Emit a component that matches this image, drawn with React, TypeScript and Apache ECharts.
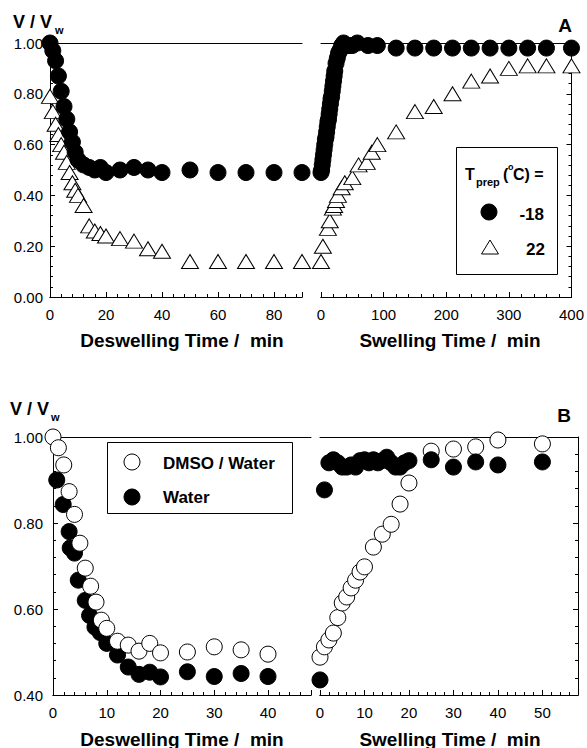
import React, { useEffect, useRef } from "react";
import * as echarts from "echarts";

const FONT = "'Liberation Sans', Arial, Helvetica, sans-serif";

// ---------- Panel A ----------
// Deswelling (min)
const desTimeA = [0, 1, 2, 3, 4, 5, 6, 7, 8, 9, 10, 12, 14, 16, 18, 20, 25, 30, 35, 40, 50, 60, 70, 80, 90];
const desM18 = [1.0, 0.97, 0.93, 0.87, 0.81, 0.75, 0.7, 0.65, 0.61, 0.57, 0.54, 0.52, 0.51, 0.5, 0.51, 0.49, 0.5, 0.51, 0.5, 0.49, 0.5, 0.49, 0.49, 0.49, 0.49];
const des22 = [0.79, 0.73, 0.68, 0.64, 0.6, 0.57, 0.53, 0.49, 0.45, 0.42, 0.4, 0.36, 0.28, 0.26, 0.25, 0.24, 0.23, 0.22, 0.19, 0.18, 0.14, 0.14, 0.14, 0.14, 0.14];
// Swelling (min)
const swTimeM18 = [0, 1, 2, 3, 4, 5, 6, 7, 8, 9, 10, 11, 12, 13, 14, 15, 16, 17, 18, 19, 20, 21, 22, 24, 26, 28, 30, 33, 36, 40, 45, 50, 58, 75, 90, 120, 150, 180, 210, 240, 270, 300, 330, 360, 400];
const swM18 = [0.49, 0.5, 0.52, 0.54, 0.56, 0.58, 0.6, 0.62, 0.63, 0.65, 0.67, 0.69, 0.7, 0.72, 0.74, 0.76, 0.78, 0.79, 0.81, 0.83, 0.85, 0.87, 0.89, 0.92, 0.94, 0.96, 0.97, 0.99, 1.0, 0.99, 0.99, 0.99, 1.0, 0.99, 0.99, 0.98, 0.98, 0.98, 0.98, 0.98, 0.98, 0.98, 0.98, 0.98, 0.98];
const swTime22 = [0, 3, 11, 14, 19, 21, 24, 27, 33, 38, 50, 60, 73, 81, 90, 120, 150, 180, 210, 240, 270, 300, 330, 360, 400];
const sw22 = [0.14, 0.2, 0.27, 0.3, 0.35, 0.36, 0.38, 0.4, 0.43, 0.45, 0.47, 0.52, 0.53, 0.57, 0.6, 0.65, 0.73, 0.75, 0.8, 0.85, 0.87, 0.9, 0.91, 0.91, 0.91];

// ---------- Panel B ----------
const desTimeDMSO = [0, 1, 2, 3, 4, 5, 6, 7, 8, 9, 10, 12, 14, 16, 18, 20, 25, 30, 35, 40];
const desDMSO = [1.0, 0.975, 0.935, 0.873, 0.82, 0.753, 0.695, 0.653, 0.616, 0.574, 0.555, 0.525, 0.516, 0.502, 0.52, 0.498, 0.5, 0.512, 0.505, 0.495];
const desTimeWater = [0.7, 1.9, 3, 3.2, 4, 4.7, 6, 6.8, 7.8, 8.8, 10, 12, 14, 16, 18, 20, 25, 30, 35, 40];
const desWater = [0.9, 0.843, 0.78, 0.742, 0.73, 0.667, 0.62, 0.585, 0.558, 0.545, 0.52, 0.493, 0.465, 0.448, 0.453, 0.442, 0.454, 0.443, 0.45, 0.443];
const swTimeDMSO = [0, 1, 2, 3, 4, 5, 6, 7, 8, 9, 10, 12, 14, 16, 18, 20, 25, 30, 35, 40, 50];
const swDMSO = [0.488, 0.512, 0.528, 0.544, 0.58, 0.614, 0.628, 0.649, 0.667, 0.686, 0.698, 0.744, 0.774, 0.797, 0.844, 0.893, 0.967, 0.972, 0.977, 0.993, 0.984];
const swTimeWater = [0, 1, 2, 3, 4, 5, 6, 7, 8, 9, 10, 11, 12, 13, 14, 15, 16, 17, 18, 19, 20, 25, 30, 35, 40, 50];
const swWater = [0.435, 0.877, 0.94, 0.947, 0.94, 0.93, 0.93, 0.935, 0.93, 0.945, 0.947, 0.94, 0.947, 0.94, 0.945, 0.953, 0.94, 0.93, 0.93, 0.94, 0.945, 0.947, 0.93, 0.942, 0.935, 0.942];

// axis setups: [max, major, minor]
const xSetup = [
  [90, 20, 4],
  [400, 100, 20],
  [48, 10, 2],
  [58, 10, 2],
];
const ySetup = [
  [0, 1, "left"],
  [0, 1, "right"],
  [0.4, 1, "left"],
  [0.4, 1, "right"],
];

const zip = (xs: number[], ys: number[]) => xs.map((x, i) => [x, ys[i]]);

const line = { show: true, onZero: false, lineStyle: { color: "#000", width: 1 } };

function makeXAxes(g: number) {
  const [max, major, minor] = xSetup[g];
  return [
    {
      type: "value", gridIndex: g, min: 0, max, interval: major, position: "bottom",
      axisLine: line,
      axisTick: { show: true, inside: true, length: 5, lineStyle: { color: "#000" } },
      axisLabel: {
        show: true, margin: 10, fontSize: 15, color: "#000", fontFamily: FONT,
        formatter: (v: number) => (Math.abs(v % major) < 1e-9 ? String(v) : ""),
      },
      splitLine: { show: false },
    },
    {
      type: "value", gridIndex: g, min: 0, max, interval: minor, position: "bottom",
      axisLine: line,
      axisTick: { show: true, inside: true, length: 3, lineStyle: { color: "#000" } },
      axisLabel: { show: false },
      splitLine: { show: false },
    },
    {
      type: "value", gridIndex: g, min: 0, max, position: "top",
      axisLine: line,
      axisTick: { show: false },
      axisLabel: { show: false },
      splitLine: { show: false },
    },
  ];
}

function makeYAxis(g: number) {
  const [min, max, pos] = ySetup[g] as [number, number, string];
  return {
    type: "value", gridIndex: g, min, max, interval: 0.2, position: pos,
    axisLine: line,
    axisTick: { show: true, inside: true, length: 5, lineStyle: { color: "#000" } },
    minorTick: { show: true, splitNumber: 5, length: 3, lineStyle: { color: "#000" } },
    axisLabel: {
      show: pos === "left", margin: g === 0 ? 7 : 10, fontSize: 15, color: "#000", fontFamily: FONT,
      formatter: (v: number) => v.toFixed(2),
    },
    splitLine: { show: false },
    minorSplitLine: { show: false },
  };
}

const filled = { symbol: "circle", symbolSize: 16, itemStyle: { color: "#000", borderColor: "#000", borderWidth: 1, opacity: 1 } };
const open = { symbol: "circle", symbolSize: 16, itemStyle: { color: "#fff", borderColor: "#000", borderWidth: 1, opacity: 1 } };
const tri = { symbol: "triangle", symbolSize: [17, 14], itemStyle: { color: "#fff", borderColor: "#000", borderWidth: 1, opacity: 1 } };

function sc(g: number, name: string, data: number[][], sym: any) {
  return { type: "scatter", name, xAxisIndex: g * 3, yAxisIndex: g, data, clip: false, silent: true, ...sym };
}

function txt(text: string, x: number, y: number, size: number, bold = true, align = "left") {
  return {
    type: "text", x, y, silent: true, z: 100,
    style: {
      text, fill: "#000",
      font: `${bold ? "bold " : ""}${size}px ${FONT}`,
      textAlign: align, align, textVerticalAlign: "middle", verticalAlign: "middle",
    },
  };
}

const option: any = {
  animation: false,
  backgroundColor: "#fff",
  grid: [
    { left: 50, top: 43, width: 252, height: 254 },
    { left: 321, top: 43, width: 253, height: 254 },
    { left: 53, top: 437, width: 258, height: 258 },
    { left: 320, top: 437, width: 258, height: 258 },
  ],
  xAxis: [...makeXAxes(0), ...makeXAxes(1), ...makeXAxes(2), ...makeXAxes(3)],
  yAxis: [makeYAxis(0), makeYAxis(1), makeYAxis(2), makeYAxis(3)],
  series: [
    sc(0, "22", zip(desTimeA, des22), tri),
    sc(0, "-18", zip(desTimeA, desM18), filled),
    sc(1, "22", zip(swTime22, sw22), tri),
    sc(1, "-18", zip(swTimeM18, swM18), filled),
    sc(2, "Water", zip(desTimeWater, desWater), filled),
    sc(2, "DMSO / Water", zip(desTimeDMSO, desDMSO), open),
    sc(3, "DMSO / Water", zip(swTimeDMSO, swDMSO), open),
    sc(3, "Water", zip(swTimeWater, swWater), filled),
  ],
  graphic: [
    // Panel A titles
    txt("V / V", 13, 22, 18),
    txt("w", 55, 30, 11),
    txt("A", 565, 25, 19, true, "center"),
    txt("Deswelling Time /  min", 182, 340, 19, true, "center"),
    txt("Swelling Time /  min", 450, 340, 19, true, "center"),
    // Panel A legend
    { type: "rect", z: 99, silent: true, shape: { x: 456.5, y: 147.5, width: 101, height: 127 }, style: { fill: "#fff", stroke: "#000", lineWidth: 1 } },
    txt("T", 465, 174, 16),
    txt("prep", 476, 182, 11),
    txt("(", 503, 174, 16),
    txt("o", 508, 167, 9),
    txt("C) =", 513, 174, 16),
    { type: "circle", z: 100, silent: true, shape: { cx: 489, cy: 212, r: 8 }, style: { fill: "#000", stroke: "#000", lineWidth: 1 } },
    txt("-18", 544, 214, 17, true, "right"),
    { type: "polygon", z: 100, silent: true, shape: { points: [[481.5, 254], [498.5, 254], [490, 240]] }, style: { fill: "#fff", stroke: "#000", lineWidth: 1 } },
    txt("22", 545, 249, 17, true, "right"),
    // Panel B titles
    txt("V / V", 10, 409, 18),
    txt("w", 51, 417, 11),
    txt("B", 564, 415, 19, true, "center"),
    txt("Deswelling Time /  min", 182, 739, 19, true, "center"),
    txt("Swelling Time /  min", 450, 739, 19, true, "center"),
    // Panel B legend
    { type: "rect", z: 99, silent: true, shape: { x: 107.5, y: 442.5, width: 185, height: 71 }, style: { fill: "#fff", stroke: "#000", lineWidth: 1 } },
    { type: "circle", z: 100, silent: true, shape: { cx: 132, cy: 462, r: 8 }, style: { fill: "#fff", stroke: "#000", lineWidth: 1 } },
    txt("DMSO / Water", 163, 463, 17),
    { type: "circle", z: 100, silent: true, shape: { cx: 132, cy: 497, r: 8 }, style: { fill: "#000", stroke: "#000", lineWidth: 1 } },
    txt("Water", 163, 497, 17),
  ],
};

export default function App() {
  const ref = useRef<HTMLDivElement>(null);
  useEffect(() => {
    const chart = echarts.init(ref.current as HTMLDivElement, null, { renderer: "svg" });
    chart.setOption(option);
    return () => chart.dispose();
  }, []);
  return (
    <div
      ref={ref}
      style={{ position: "absolute", left: 0, top: 0, width: 587, height: 748, background: "#fff" }}
    />
  );
}
